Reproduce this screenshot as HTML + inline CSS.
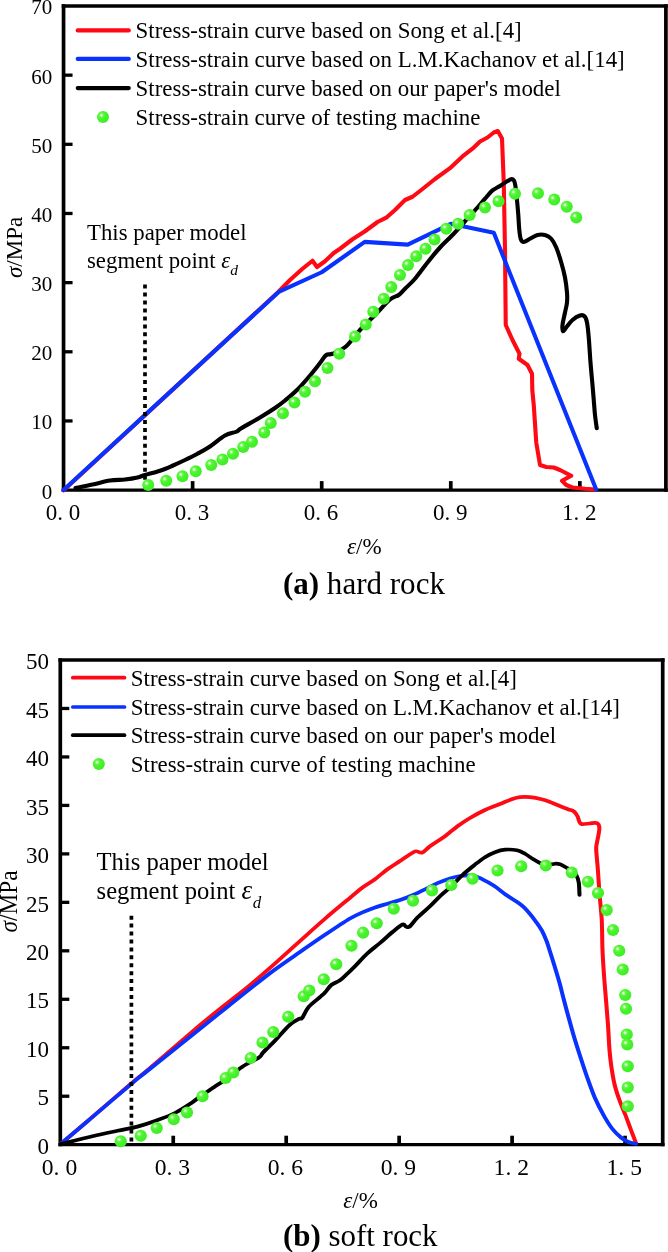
<!DOCTYPE html>
<html><head><meta charset="utf-8"><title>Stress-strain curves</title>
<style>html,body{margin:0;padding:0;background:#fff}body{width:668px;height:1252px;overflow:hidden}svg{display:block;will-change:transform}text{font-family:"Liberation Serif",serif;fill:#000}.i{font-style:italic}.b{font-weight:bold}.ln{fill:none;stroke-linejoin:round;stroke-linecap:round}</style></head><body>
<svg width="668" height="1252" viewBox="0 0 668 1252">
<defs><radialGradient id="g" cx="0.36" cy="0.35" r="0.62"><stop offset="0" stop-color="#ffffff"/><stop offset="0.1" stop-color="#d8ffcc"/><stop offset="0.26" stop-color="#6af84c"/><stop offset="0.5" stop-color="#4af32e"/><stop offset="1" stop-color="#3fee26"/></radialGradient></defs>
<rect width="668" height="1252" fill="#fff"/>
<path d="M63.55 4.35V491.75M665.90 4.35V491.75" fill="none" stroke="#000" stroke-width="3.7"/>
<path d="M61.70 6.00H667.75M61.70 490.10H667.75" fill="none" stroke="#000" stroke-width="3.3"/>
<text x="52.35" y="498.50" font-size="21" text-anchor="end">0</text>
<line x1="63.55" y1="420.94" x2="72.55" y2="420.94" stroke="#000" stroke-width="3.3"/>
<text x="52.35" y="429.34" font-size="21" text-anchor="end">10</text>
<line x1="63.55" y1="351.79" x2="72.55" y2="351.79" stroke="#000" stroke-width="3.3"/>
<text x="52.35" y="360.19" font-size="21" text-anchor="end">20</text>
<line x1="63.55" y1="282.63" x2="72.55" y2="282.63" stroke="#000" stroke-width="3.3"/>
<text x="52.35" y="291.03" font-size="21" text-anchor="end">30</text>
<line x1="63.55" y1="213.47" x2="72.55" y2="213.47" stroke="#000" stroke-width="3.3"/>
<text x="52.35" y="221.87" font-size="21" text-anchor="end">40</text>
<line x1="63.55" y1="144.31" x2="72.55" y2="144.31" stroke="#000" stroke-width="3.3"/>
<text x="52.35" y="152.71" font-size="21" text-anchor="end">50</text>
<line x1="63.55" y1="75.16" x2="72.55" y2="75.16" stroke="#000" stroke-width="3.3"/>
<text x="52.35" y="83.56" font-size="21" text-anchor="end">60</text>
<text x="52.35" y="14.40" font-size="21" text-anchor="end">70</text>
<text x="62.95" y="520.00" font-size="23" text-anchor="middle">0. 0</text>
<line x1="192.62" y1="490.10" x2="192.62" y2="481.10" stroke="#000" stroke-width="3.7"/>
<text x="192.03" y="520.00" font-size="23" text-anchor="middle">0. 3</text>
<line x1="321.70" y1="490.10" x2="321.70" y2="481.10" stroke="#000" stroke-width="3.7"/>
<text x="321.10" y="520.00" font-size="23" text-anchor="middle">0. 6</text>
<line x1="450.78" y1="490.10" x2="450.78" y2="481.10" stroke="#000" stroke-width="3.7"/>
<text x="450.18" y="520.00" font-size="23" text-anchor="middle">0. 9</text>
<line x1="579.85" y1="490.10" x2="579.85" y2="481.10" stroke="#000" stroke-width="3.7"/>
<text x="579.25" y="520.00" font-size="23" text-anchor="middle">1. 2</text>
<path class="ln" d="M63.70 490.30 L278.00 292.30 L290.00 280.00 L302.50 268.75 L312.50 260.75 L317.00 267.00 L325.00 261.25 L333.75 253.00 L340.00 248.75 L352.50 239.25 L365.00 231.25 L377.50 222.00 L386.25 217.70 L395.00 210.00 L405.00 200.00 L412.50 196.75 L421.25 190.00 L435.00 179.00 L450.00 168.20 L462.50 156.40 L472.50 148.70 L480.00 141.50 L487.50 137.50 L493.75 132.50 L497.80 131.00 L502.00 138.50 L503.75 182.50 L505.00 250.00 L505.75 325.00 L512.50 340.00 L519.50 353.75 L518.75 358.75 L527.50 365.00 L532.00 373.75 L532.30 390.00 L533.75 405.00 L536.25 442.50 L540.00 465.00 L546.25 467.00 L553.75 467.50 L560.00 470.00 L571.25 475.75 L562.00 480.75 L566.25 485.00 L572.50 487.50 L585.00 488.75 L595.50 489.50" stroke="#ff0a14" stroke-width="4.1"/>
<path class="ln" d="M63.55 490.10 L278.68 291.96 L321.70 272.25 L364.73 241.83 L407.75 244.59 L450.78 223.84 L493.80 232.84 L596.20 489.60" stroke="#0a32ff" stroke-width="4.1"/>
<path class="ln" d="M75.50 488.00 C78.33 487.42 86.75 485.75 92.50 484.50 C98.25 483.25 104.58 481.33 110.00 480.50 C115.42 479.67 120.42 480.00 125.00 479.50 C129.58 479.00 134.17 478.25 137.50 477.50 C140.83 476.75 141.25 476.12 145.00 475.00 C148.75 473.88 155.42 472.29 160.00 470.75 C164.58 469.21 168.33 467.54 172.50 465.75 C176.67 463.96 180.83 462.00 185.00 460.00 C189.17 458.00 193.33 456.00 197.50 453.75 C201.67 451.50 205.42 449.54 210.00 446.50 C214.58 443.46 220.62 437.96 225.00 435.50 C229.38 433.04 233.54 432.96 236.25 431.75 C238.96 430.54 237.29 430.62 241.25 428.25 C245.21 425.88 254.38 420.88 260.00 417.50 C265.62 414.12 270.83 410.83 275.00 408.00 C279.17 405.17 281.25 403.58 285.00 400.50 C288.75 397.42 293.33 393.67 297.50 389.50 C301.67 385.33 306.25 379.92 310.00 375.50 C313.75 371.08 317.29 366.42 320.00 363.00 C322.71 359.58 324.17 356.54 326.25 355.00 C328.33 353.46 329.17 355.21 332.50 353.75 C335.83 352.29 341.67 350.21 346.25 346.25 C350.83 342.29 355.21 335.21 360.00 330.00 C364.79 324.79 370.00 320.08 375.00 315.00 C380.00 309.92 386.04 302.83 390.00 299.50 C393.96 296.17 396.25 296.79 398.75 295.00 C401.25 293.21 402.29 291.46 405.00 288.75 C407.71 286.04 411.25 283.12 415.00 278.75 C418.75 274.38 423.33 267.71 427.50 262.50 C431.67 257.29 435.83 252.08 440.00 247.50 C444.17 242.92 448.33 239.38 452.50 235.00 C456.67 230.62 460.83 225.83 465.00 221.25 C469.17 216.67 474.17 211.26 477.50 207.50 C480.83 203.74 482.50 201.55 485.00 198.70 C487.50 195.85 490.00 192.52 492.50 190.40 C495.00 188.28 497.50 187.55 500.00 186.00 C502.50 184.45 505.63 182.23 507.50 181.10 C509.37 179.97 510.15 179.33 511.20 179.20 C512.25 179.07 513.12 179.30 513.80 180.30 C514.48 181.30 514.73 181.52 515.30 185.20 C515.87 188.88 516.70 197.43 517.20 202.40 C517.70 207.37 517.95 210.40 518.30 215.00 C518.65 219.60 518.89 226.00 519.30 230.00 C519.71 234.00 520.01 237.00 520.75 239.00 C521.49 241.00 522.21 242.04 523.75 242.00 C525.29 241.96 527.71 239.92 530.00 238.75 C532.29 237.58 535.00 235.62 537.50 235.00 C540.00 234.38 542.71 234.38 545.00 235.00 C547.29 235.62 549.38 236.67 551.25 238.75 C553.12 240.83 554.58 243.54 556.25 247.50 C557.92 251.46 559.79 257.50 561.25 262.50 C562.71 267.50 564.04 272.50 565.00 277.50 C565.96 282.50 566.67 288.33 567.00 292.50 C567.33 296.67 567.33 299.17 567.00 302.50 C566.67 305.83 565.75 308.75 565.00 312.50 C564.25 316.25 562.83 321.88 562.50 325.00 C562.17 328.12 562.38 330.83 563.00 331.25 C563.62 331.67 564.67 329.38 566.25 327.50 C567.83 325.62 570.21 322.00 572.50 320.00 C574.79 318.00 578.00 316.12 580.00 315.50 C582.00 314.88 583.33 315.08 584.50 316.25 C585.67 317.42 586.29 318.96 587.00 322.50 C587.71 326.04 588.17 330.83 588.75 337.50 C589.33 344.17 589.88 354.58 590.50 362.50 C591.12 370.42 591.96 378.75 592.50 385.00 C593.04 391.25 593.33 395.00 593.75 400.00 C594.17 405.00 594.50 410.29 595.00 415.00 C595.50 419.71 596.46 426.04 596.75 428.25" stroke="#000" stroke-width="4.1"/>
<line x1="145.00" y1="284.60" x2="145.00" y2="490.00" stroke="#000" stroke-width="3.7" stroke-dasharray="4 3.96"/>
<circle cx="148.25" cy="485.00" r="6.00" fill="url(#g)"/>
<circle cx="166.25" cy="480.75" r="6.00" fill="url(#g)"/>
<circle cx="182.50" cy="476.25" r="6.00" fill="url(#g)"/>
<circle cx="195.75" cy="471.25" r="6.00" fill="url(#g)"/>
<circle cx="211.25" cy="465.00" r="6.00" fill="url(#g)"/>
<circle cx="222.50" cy="459.40" r="6.00" fill="url(#g)"/>
<circle cx="233.00" cy="453.75" r="6.00" fill="url(#g)"/>
<circle cx="243.25" cy="447.00" r="6.00" fill="url(#g)"/>
<circle cx="252.00" cy="441.75" r="6.00" fill="url(#g)"/>
<circle cx="264.25" cy="432.50" r="6.00" fill="url(#g)"/>
<circle cx="270.75" cy="423.00" r="6.00" fill="url(#g)"/>
<circle cx="283.00" cy="413.25" r="6.00" fill="url(#g)"/>
<circle cx="294.50" cy="402.50" r="6.00" fill="url(#g)"/>
<circle cx="305.00" cy="391.75" r="6.00" fill="url(#g)"/>
<circle cx="315.00" cy="381.25" r="6.00" fill="url(#g)"/>
<circle cx="327.50" cy="368.00" r="6.00" fill="url(#g)"/>
<circle cx="339.25" cy="353.75" r="6.00" fill="url(#g)"/>
<circle cx="355.00" cy="336.60" r="6.00" fill="url(#g)"/>
<circle cx="365.75" cy="324.50" r="6.00" fill="url(#g)"/>
<circle cx="373.25" cy="311.75" r="6.00" fill="url(#g)"/>
<circle cx="383.75" cy="298.75" r="6.00" fill="url(#g)"/>
<circle cx="391.25" cy="287.00" r="6.00" fill="url(#g)"/>
<circle cx="400.00" cy="275.00" r="6.00" fill="url(#g)"/>
<circle cx="408.00" cy="265.00" r="6.00" fill="url(#g)"/>
<circle cx="416.25" cy="256.25" r="6.00" fill="url(#g)"/>
<circle cx="425.50" cy="248.75" r="6.00" fill="url(#g)"/>
<circle cx="434.50" cy="239.50" r="6.00" fill="url(#g)"/>
<circle cx="446.25" cy="228.75" r="6.00" fill="url(#g)"/>
<circle cx="458.10" cy="223.75" r="6.00" fill="url(#g)"/>
<circle cx="469.70" cy="215.00" r="6.00" fill="url(#g)"/>
<circle cx="485.00" cy="207.50" r="6.00" fill="url(#g)"/>
<circle cx="498.50" cy="201.25" r="6.00" fill="url(#g)"/>
<circle cx="515.00" cy="193.75" r="6.00" fill="url(#g)"/>
<circle cx="538.00" cy="193.25" r="6.00" fill="url(#g)"/>
<circle cx="554.25" cy="199.50" r="6.00" fill="url(#g)"/>
<circle cx="566.75" cy="206.75" r="6.00" fill="url(#g)"/>
<circle cx="576.25" cy="217.50" r="6.00" fill="url(#g)"/>
<line class="ln" x1="77.70" y1="30.40" x2="128.80" y2="30.40" stroke="#ff0a14" stroke-width="4.1"/>
<line class="ln" x1="77.70" y1="58.90" x2="128.80" y2="58.90" stroke="#0a32ff" stroke-width="4.1"/>
<line class="ln" x1="77.70" y1="88.10" x2="128.80" y2="88.10" stroke="#000" stroke-width="4.1"/>
<circle cx="103.00" cy="117.00" r="6.00" fill="url(#g)"/>
<text x="135.60" y="38.20" font-size="22.92">Stress-strain curve based on Song et al.[4]</text>
<text x="135.60" y="66.70" font-size="22.92">Stress-strain curve based on L.M.Kachanov et al.[14]</text>
<text x="135.60" y="95.90" font-size="22.92">Stress-strain curve based on our paper's model</text>
<text x="135.60" y="124.80" font-size="22.92">Stress-strain curve of testing machine</text>
<text x="87" y="240" font-size="22.8">This paper model</text>
<text x="87" y="267.8" font-size="22.8">segment point <tspan class="i">ε</tspan><tspan class="i" font-size="15.50" dy="7.4">d</tspan></text>
<text x="364.3" y="554.2" font-size="23" text-anchor="middle"><tspan class="i">ε</tspan>/%</text>
<text x="282.9" y="593.8" font-size="31.05"><tspan class="b">(a)</tspan> hard rock</text>
<text transform="translate(22 247.4) rotate(-90)" font-size="23" text-anchor="middle"><tspan class="i">σ</tspan>/MPa</text>
<path d="M60.30 658.35V1146.35M662.70 658.35V1146.35" fill="none" stroke="#000" stroke-width="3.7"/>
<path d="M58.45 660.00H664.55M58.45 1144.70H664.55" fill="none" stroke="#000" stroke-width="3.3"/>
<text x="49.10" y="1153.90" font-size="23" text-anchor="end">0</text>
<line x1="60.30" y1="1096.23" x2="69.30" y2="1096.23" stroke="#000" stroke-width="3.3"/>
<text x="49.10" y="1105.43" font-size="23" text-anchor="end">5</text>
<line x1="60.30" y1="1047.76" x2="69.30" y2="1047.76" stroke="#000" stroke-width="3.3"/>
<text x="49.10" y="1056.96" font-size="23" text-anchor="end">10</text>
<line x1="60.30" y1="999.29" x2="69.30" y2="999.29" stroke="#000" stroke-width="3.3"/>
<text x="49.10" y="1008.49" font-size="23" text-anchor="end">15</text>
<line x1="60.30" y1="950.82" x2="69.30" y2="950.82" stroke="#000" stroke-width="3.3"/>
<text x="49.10" y="960.02" font-size="23" text-anchor="end">20</text>
<line x1="60.30" y1="902.35" x2="69.30" y2="902.35" stroke="#000" stroke-width="3.3"/>
<text x="49.10" y="911.55" font-size="23" text-anchor="end">25</text>
<line x1="60.30" y1="853.88" x2="69.30" y2="853.88" stroke="#000" stroke-width="3.3"/>
<text x="49.10" y="863.08" font-size="23" text-anchor="end">30</text>
<line x1="60.30" y1="805.41" x2="69.30" y2="805.41" stroke="#000" stroke-width="3.3"/>
<text x="49.10" y="814.61" font-size="23" text-anchor="end">35</text>
<line x1="60.30" y1="756.94" x2="69.30" y2="756.94" stroke="#000" stroke-width="3.3"/>
<text x="49.10" y="766.14" font-size="23" text-anchor="end">40</text>
<line x1="60.30" y1="708.47" x2="69.30" y2="708.47" stroke="#000" stroke-width="3.3"/>
<text x="49.10" y="717.67" font-size="23" text-anchor="end">45</text>
<text x="49.10" y="669.20" font-size="23" text-anchor="end">50</text>
<text x="59.50" y="1175.00" font-size="23.6" text-anchor="middle">0. 0</text>
<line x1="173.25" y1="1144.70" x2="173.25" y2="1135.70" stroke="#000" stroke-width="3.7"/>
<text x="172.45" y="1175.00" font-size="23.6" text-anchor="middle">0. 3</text>
<line x1="286.20" y1="1144.70" x2="286.20" y2="1135.70" stroke="#000" stroke-width="3.7"/>
<text x="285.40" y="1175.00" font-size="23.6" text-anchor="middle">0. 6</text>
<line x1="399.15" y1="1144.70" x2="399.15" y2="1135.70" stroke="#000" stroke-width="3.7"/>
<text x="398.35" y="1175.00" font-size="23.6" text-anchor="middle">0. 9</text>
<line x1="512.10" y1="1144.70" x2="512.10" y2="1135.70" stroke="#000" stroke-width="3.7"/>
<text x="511.30" y="1175.00" font-size="23.6" text-anchor="middle">1. 2</text>
<line x1="625.05" y1="1144.70" x2="625.05" y2="1135.70" stroke="#000" stroke-width="3.7"/>
<text x="624.25" y="1175.00" font-size="23.6" text-anchor="middle">1. 5</text>
<g transform="scale(1.09 1)">
<path class="ln" d="M55.50 1144.20 C59.86 1140.15 70.81 1130.03 81.65 1119.90 C92.49 1109.77 111.45 1091.83 120.55 1083.40 C129.65 1074.97 125.75 1079.00 136.24 1069.30 C146.73 1059.60 171.79 1035.92 183.49 1025.20 C195.18 1014.48 198.78 1011.70 206.42 1005.00 C214.07 998.30 221.71 991.92 229.36 985.00 C237.00 978.08 244.65 970.83 252.29 963.50 C259.94 956.17 267.58 948.46 275.23 941.00 C282.87 933.54 290.52 925.95 298.17 918.75 C305.81 911.55 315.37 903.01 321.10 897.80 C326.83 892.59 328.75 890.60 332.57 887.50 C336.39 884.40 340.21 882.25 344.04 879.20 C347.86 876.15 351.68 872.23 355.50 869.20 C359.33 866.17 363.15 863.73 366.97 861.00 C370.80 858.27 375.96 854.42 378.44 852.80 C380.93 851.17 380.35 851.30 381.88 851.25 C383.41 851.20 385.51 853.33 387.61 852.50 C389.72 851.67 391.06 848.96 394.50 846.25 C397.94 843.54 404.05 839.58 408.26 836.25 C412.46 832.92 415.90 829.29 419.72 826.25 C423.55 823.21 426.99 820.71 431.19 818.00 C435.40 815.29 440.37 812.33 444.95 810.00 C449.54 807.67 454.51 805.83 458.72 804.00 C462.92 802.17 467.13 800.13 470.18 799.00 C473.24 797.87 474.39 797.50 477.06 797.20 C479.74 796.90 482.80 796.82 486.24 797.20 C489.68 797.58 494.65 798.70 497.71 799.50 C500.76 800.30 502.34 801.08 504.59 802.00 C506.83 802.92 508.44 803.80 511.19 805.00 C513.94 806.20 518.53 808.12 521.10 809.20 C523.67 810.28 525.15 810.32 526.61 811.50 C528.06 812.68 529.01 814.63 529.82 816.30 C530.63 817.97 530.83 820.20 531.47 821.50 C532.11 822.80 532.11 823.77 533.67 824.10 C535.23 824.43 538.72 823.70 540.83 823.50 C542.94 823.30 544.94 822.73 546.33 822.90 C547.72 823.07 548.59 823.40 549.17 824.50 C549.76 825.60 549.92 827.27 549.82 829.50 C549.71 831.73 549.01 834.90 548.53 837.90 C548.06 840.90 547.13 844.10 546.97 847.50 C546.82 850.90 547.35 854.55 547.61 858.30 C547.87 862.05 548.12 863.88 548.53 870.00 C548.94 876.12 549.50 886.67 550.09 895.00 C550.68 903.33 551.62 910.83 552.06 920.00 C552.51 929.17 552.41 940.83 552.75 950.00 C553.10 959.17 553.59 966.67 554.13 975.00 C554.66 983.33 555.35 991.67 555.96 1000.00 C556.57 1008.33 557.26 1016.67 557.80 1025.00 C558.33 1033.33 558.64 1042.92 559.17 1050.00 C559.71 1057.08 560.21 1061.67 561.01 1067.50 C561.80 1073.33 562.74 1079.58 563.94 1085.00 C565.15 1090.42 566.62 1095.00 568.26 1100.00 C569.89 1105.00 571.99 1110.00 573.76 1115.00 C575.54 1120.00 577.28 1125.33 578.90 1130.00 C580.52 1134.67 582.72 1140.83 583.49 1143.00" stroke="#ff0a14" stroke-width="3.7"/>
<path class="ln" d="M55.50 1144.20 C59.86 1140.17 70.81 1130.07 81.65 1120.00 C92.49 1109.93 111.45 1092.13 120.55 1083.80 C129.65 1075.47 125.75 1079.17 136.24 1070.00 C146.73 1060.83 171.79 1039.00 183.49 1028.80 C195.18 1018.60 198.78 1015.47 206.42 1008.80 C214.07 1002.13 221.71 995.35 229.36 988.80 C237.00 982.25 244.65 975.63 252.29 969.50 C259.94 963.37 267.58 957.78 275.23 952.00 C282.87 946.22 290.52 940.38 298.17 934.80 C305.81 929.22 315.37 922.23 321.10 918.50 C326.83 914.77 328.75 914.25 332.57 912.40 C336.39 910.55 340.21 908.85 344.04 907.40 C347.86 905.95 351.68 904.93 355.50 903.70 C359.33 902.47 363.15 901.42 366.97 900.00 C370.80 898.58 374.62 896.97 378.44 895.20 C382.26 893.43 386.09 891.42 389.91 889.40 C393.73 887.38 397.55 884.93 401.38 883.10 C405.20 881.27 409.40 879.58 412.84 878.40 C416.28 877.22 418.58 876.48 422.02 876.00 C425.46 875.52 430.05 874.95 433.49 875.50 C436.93 876.05 439.37 877.60 442.66 879.30 C445.95 881.00 449.63 883.13 453.21 885.70 C456.79 888.27 460.47 891.90 464.13 894.70 C467.78 897.50 472.39 900.40 475.14 902.50 C477.89 904.60 478.81 905.40 480.64 907.30 C482.48 909.20 484.31 911.50 486.15 913.90 C487.98 916.30 489.82 918.90 491.65 921.70 C493.49 924.50 495.52 927.45 497.16 930.70 C498.79 933.95 500.18 937.57 501.47 941.20 C502.75 944.83 503.75 948.70 504.86 952.50 C505.98 956.30 506.79 959.08 508.17 964.00 C509.54 968.92 511.61 976.08 513.12 982.00 C514.63 987.92 516.03 994.42 517.25 999.50 C518.46 1004.58 518.93 1006.58 520.41 1012.50 C521.90 1018.42 524.24 1027.92 526.15 1035.00 C528.06 1042.08 529.78 1047.92 531.88 1055.00 C533.98 1062.08 536.47 1070.42 538.76 1077.50 C541.06 1084.58 543.16 1091.25 545.64 1097.50 C548.13 1103.75 550.99 1109.79 553.67 1115.00 C556.35 1120.21 559.02 1125.00 561.70 1128.75 C564.37 1132.50 567.24 1135.29 569.72 1137.50 C572.21 1139.71 574.31 1140.96 576.61 1142.00 C578.90 1143.04 582.34 1143.46 583.49 1143.75" stroke="#0a32ff" stroke-width="3.7"/>
<path class="ln" d="M55.50 1144.20 C60.40 1142.88 76.15 1138.49 84.86 1136.25 C93.58 1134.01 100.92 1132.36 107.80 1130.75 C114.68 1129.14 120.41 1128.22 126.15 1126.60 C131.88 1124.97 136.47 1123.27 142.20 1121.00 C147.94 1118.73 154.82 1116.12 160.55 1113.00 C166.28 1109.88 172.78 1105.05 176.61 1102.30 C180.43 1099.55 179.59 1099.45 183.49 1096.50 C187.39 1093.55 195.11 1088.27 200.00 1084.60 C204.89 1080.93 209.01 1077.57 212.84 1074.50 C216.68 1071.43 218.85 1069.08 223.03 1066.20 C227.20 1063.32 234.86 1059.45 237.89 1057.20 C240.92 1054.95 238.73 1055.53 241.19 1052.70 C243.65 1049.87 248.55 1044.83 252.66 1040.20 C256.77 1035.57 262.16 1028.50 265.87 1024.90 C269.59 1021.30 273.03 1019.80 274.95 1018.60 C276.88 1017.40 276.06 1019.65 277.43 1017.70 C278.81 1015.75 280.52 1010.33 283.21 1006.90 C285.90 1003.47 291.09 999.50 293.58 997.10 C296.07 994.70 296.44 994.52 298.17 992.50 C299.89 990.48 301.61 987.03 303.90 985.00 C306.19 982.97 309.44 982.22 311.93 980.30 C314.41 978.38 316.51 975.85 318.81 973.50 C321.10 971.15 322.71 969.50 325.69 966.20 C328.67 962.90 332.87 957.57 336.70 953.70 C340.52 949.83 344.72 946.62 348.62 943.00 C352.52 939.38 356.65 935.08 360.09 932.00 C363.53 928.92 367.16 925.38 369.27 924.50 C371.37 923.62 371.56 926.46 372.71 926.75 C373.85 927.04 374.43 927.79 376.15 926.25 C377.87 924.71 379.97 920.83 383.03 917.50 C386.09 914.17 391.06 909.79 394.50 906.25 C397.94 902.71 400.61 899.38 403.67 896.25 C406.73 893.12 409.40 891.04 412.84 887.50 C416.28 883.96 420.49 878.82 424.31 875.00 C428.13 871.18 432.34 867.57 435.78 864.60 C439.22 861.63 441.90 859.27 444.95 857.20 C448.01 855.13 451.07 853.45 454.13 852.20 C457.19 850.95 459.94 850.02 463.30 849.70 C466.67 849.38 471.25 849.62 474.31 850.30 C477.37 850.97 479.28 852.34 481.65 853.75 C484.02 855.16 486.24 857.21 488.53 858.75 C490.83 860.29 493.12 861.96 495.41 863.00 C497.71 864.04 500.00 864.88 502.29 865.00 C504.59 865.12 507.26 863.88 509.17 863.75 C511.09 863.62 512.04 863.62 513.76 864.25 C515.48 864.88 517.66 866.38 519.50 867.50 C521.33 868.62 523.24 869.75 524.77 871.00 C526.30 872.25 527.64 873.08 528.67 875.00 C529.70 876.92 530.47 879.17 530.96 882.50 C531.46 885.83 531.54 892.92 531.65 895.00" stroke="#000" stroke-width="3.7"/>
</g>
<line x1="131.40" y1="915.70" x2="131.40" y2="1144.00" stroke="#000" stroke-width="3.7" stroke-dasharray="4 3.92"/>
<circle cx="120.75" cy="1141.25" r="6.10" fill="url(#g)"/>
<circle cx="140.75" cy="1135.75" r="6.10" fill="url(#g)"/>
<circle cx="156.75" cy="1128.00" r="6.10" fill="url(#g)"/>
<circle cx="173.75" cy="1119.25" r="6.10" fill="url(#g)"/>
<circle cx="187.00" cy="1112.50" r="6.10" fill="url(#g)"/>
<circle cx="202.50" cy="1096.25" r="6.10" fill="url(#g)"/>
<circle cx="225.60" cy="1078.00" r="6.10" fill="url(#g)"/>
<circle cx="233.25" cy="1072.50" r="6.10" fill="url(#g)"/>
<circle cx="250.75" cy="1058.00" r="6.10" fill="url(#g)"/>
<circle cx="262.50" cy="1042.50" r="6.10" fill="url(#g)"/>
<circle cx="273.25" cy="1032.00" r="6.10" fill="url(#g)"/>
<circle cx="288.25" cy="1016.75" r="6.10" fill="url(#g)"/>
<circle cx="303.75" cy="996.25" r="6.10" fill="url(#g)"/>
<circle cx="309.25" cy="990.50" r="6.10" fill="url(#g)"/>
<circle cx="323.75" cy="979.25" r="6.10" fill="url(#g)"/>
<circle cx="336.25" cy="964.25" r="6.10" fill="url(#g)"/>
<circle cx="351.50" cy="945.75" r="6.10" fill="url(#g)"/>
<circle cx="363.10" cy="932.70" r="6.10" fill="url(#g)"/>
<circle cx="376.75" cy="923.25" r="6.10" fill="url(#g)"/>
<circle cx="393.75" cy="908.75" r="6.10" fill="url(#g)"/>
<circle cx="413.00" cy="900.75" r="6.10" fill="url(#g)"/>
<circle cx="432.00" cy="890.50" r="6.10" fill="url(#g)"/>
<circle cx="451.25" cy="885.00" r="6.10" fill="url(#g)"/>
<circle cx="472.50" cy="878.75" r="6.10" fill="url(#g)"/>
<circle cx="497.50" cy="870.50" r="6.10" fill="url(#g)"/>
<circle cx="521.25" cy="866.25" r="6.10" fill="url(#g)"/>
<circle cx="545.75" cy="865.50" r="6.10" fill="url(#g)"/>
<circle cx="571.75" cy="872.50" r="6.10" fill="url(#g)"/>
<circle cx="588.00" cy="881.75" r="6.10" fill="url(#g)"/>
<circle cx="598.00" cy="893.00" r="6.10" fill="url(#g)"/>
<circle cx="606.75" cy="910.00" r="6.10" fill="url(#g)"/>
<circle cx="613.00" cy="930.00" r="6.10" fill="url(#g)"/>
<circle cx="619.25" cy="950.75" r="6.10" fill="url(#g)"/>
<circle cx="622.75" cy="969.50" r="6.10" fill="url(#g)"/>
<circle cx="625.25" cy="995.00" r="6.10" fill="url(#g)"/>
<circle cx="626.00" cy="1008.75" r="6.10" fill="url(#g)"/>
<circle cx="626.75" cy="1034.50" r="6.10" fill="url(#g)"/>
<circle cx="627.25" cy="1044.50" r="6.10" fill="url(#g)"/>
<circle cx="627.75" cy="1066.25" r="6.10" fill="url(#g)"/>
<circle cx="627.75" cy="1087.50" r="6.10" fill="url(#g)"/>
<circle cx="627.75" cy="1106.25" r="6.10" fill="url(#g)"/>
<line class="ln" x1="72.80" y1="677.70" x2="124.50" y2="677.70" stroke="#ff0a14" stroke-width="3.7"/>
<line class="ln" x1="72.80" y1="707.00" x2="124.50" y2="707.00" stroke="#0a32ff" stroke-width="3.7"/>
<line class="ln" x1="72.80" y1="735.20" x2="124.50" y2="735.20" stroke="#000" stroke-width="3.7"/>
<circle cx="98.80" cy="764.00" r="6.00" fill="url(#g)"/>
<text x="130.80" y="685.50" font-size="22.92">Stress-strain curve based on Song et al.[4]</text>
<text x="130.80" y="714.80" font-size="22.92">Stress-strain curve based on L.M.Kachanov et al.[14]</text>
<text x="130.80" y="743.00" font-size="22.92">Stress-strain curve based on our paper's model</text>
<text x="130.80" y="771.80" font-size="22.92">Stress-strain curve of testing machine</text>
<text x="96.6" y="870.2" font-size="24.6">This paper model</text>
<text x="96.6" y="899.2" font-size="24.6">segment point <tspan class="i" font-size="27.06">ε</tspan><tspan class="i" font-size="16.97" dy="9" dx="0.6">d</tspan></text>
<text x="360.6" y="1208.2" font-size="23" text-anchor="middle"><tspan class="i">ε</tspan>/%</text>
<text x="282.9" y="1245.6" font-size="30.95"><tspan class="b">(b)</tspan> soft rock</text>
<text transform="translate(17.2 901.5) rotate(-90) scale(1 1.05)" font-size="23.3" text-anchor="middle"><tspan class="i">σ</tspan>/MPa</text>
</svg></body></html>
